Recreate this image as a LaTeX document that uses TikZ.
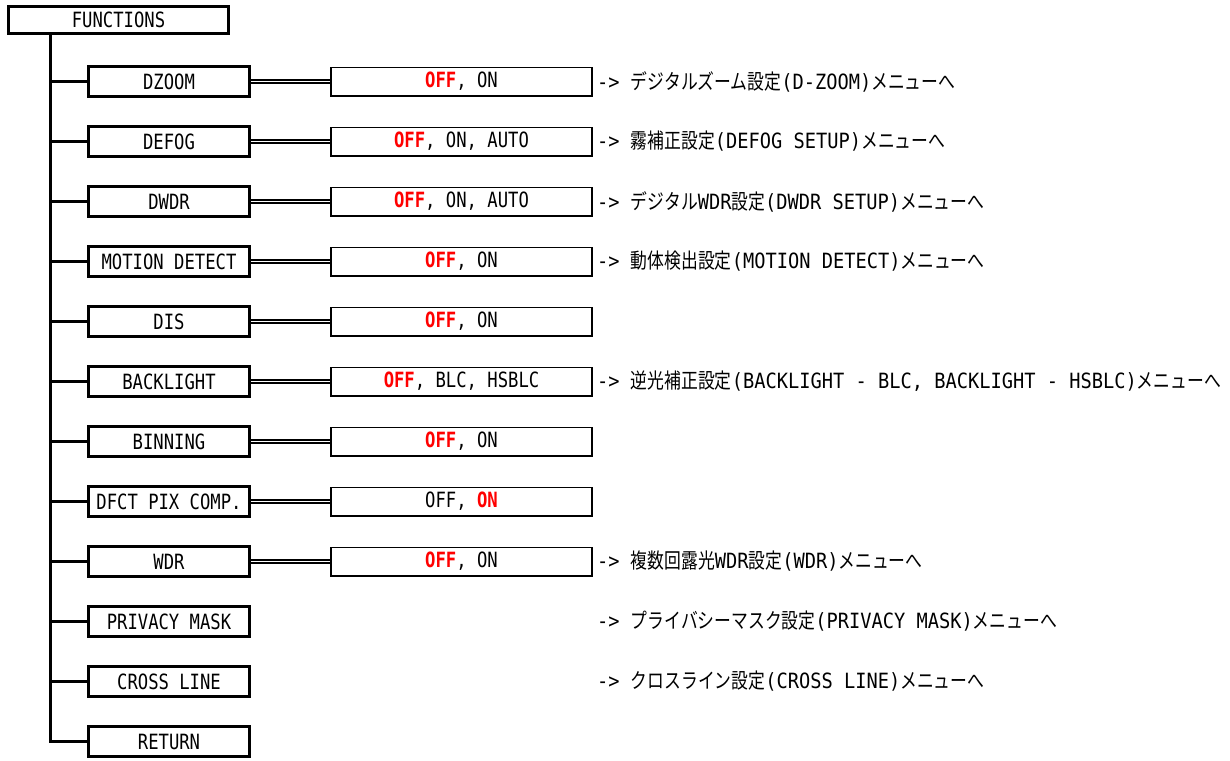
\documentclass[tikz,border=0pt]{standalone}
\usepackage{fontspec}
\setmainfont[FakeStretch=0.89]{DejaVu Sans Mono}
\newfontfamily\boxfont[FakeStretch=0.82]{DejaVu Sans Mono}
\newfontfamily\jpfont[FakeStretch=0.8]{Noto Sans CJK JP}
\newcommand\jp[1]{{\jpfont #1}}
\newcommand\hot[1]{\textcolor{red}{\textbf{#1}}}

\begin{document}
\begin{tikzpicture}[x=1pt, y=-1pt,
    menu/.style={draw, line width=3pt, minimum width=161pt, minimum height=30pt, inner sep=0pt, font=\boxfont\fontsize{21}{21}\selectfont},
    valbox/.style={draw, line width=1.5pt, minimum width=261pt, minimum height=28.5pt, inner sep=0pt, font=\boxfont\fontsize{21}{21}\selectfont},
    note/.style={anchor=west, inner sep=0pt, font=\fontsize{21}{21}\selectfont},
    tree/.style={line width=3pt},
    dbl/.style={double, line width=1.3pt, double distance=1.8pt}]

    \useasboundingbox (0,0) rectangle (1230,760);

    % 顶部 FUNCTIONS
    \node[menu, minimum width=220pt, minimum height=27pt] (fn) at (118.5,20) {FUNCTIONS};
    \coordinate (trunk) at (50,0);

    % 各菜单项
    \foreach \i/\t in {1/DZOOM, 2/DEFOG, 3/DWDR, 4/MOTION DETECT, 5/DIS, 6/BACKLIGHT,
                       7/BINNING, 8/DFCT PIX COMP., 9/WDR, 10/PRIVACY MASK, 11/CROSS LINE, 12/RETURN} {
        \node[menu] (m\i) at (169, 21.5+60*\i) {\t};
    }

    % 主干 + 分支
    \draw[tree] (trunk |- fn.south) |- (m12.west);
    \foreach \i in {1,...,11} {
        \draw[tree] (trunk |- m\i.west) -- (m\i.west);
    }

    % 设定值框 (双线连接)
    \foreach \i/\t in {1/{\hot{OFF}, ON}, 2/{\hot{OFF}, ON, AUTO}, 3/{\hot{OFF}, ON, AUTO},
                       4/{\hot{OFF}, ON}, 5/{\hot{OFF}, ON}, 6/{\hot{OFF}, BLC, HSBLC},
                       7/{\hot{OFF}, ON}, 8/{OFF, \hot{ON}}, 9/{\hot{OFF}, ON}} {
        \node[valbox] (v\i) at (461.5, 21.5+60*\i) {\t};
        \draw[dbl] (m\i.east) -- (v\i.west);
    }

    % 子菜单说明
    \foreach \i/\t in {1/{\jp{デジタルズーム設定}(D-ZOOM)\jp{メニューへ}},
                       2/{\jp{霧補正設定}(DEFOG SETUP)\jp{メニューへ}},
                       3/{\jp{デジタル}WDR\jp{設定}(DWDR SETUP)\jp{メニューへ}},
                       4/{\jp{動体検出設定}(MOTION DETECT)\jp{メニューへ}},
                       6/{\jp{逆光補正設定}(BACKLIGHT - BLC, BACKLIGHT - HSBLC)\jp{メニューへ}},
                       9/{\jp{複数回露光}WDR\jp{設定}(WDR)\jp{メニューへ}},
                       10/{\jp{プライバシーマスク設定}(PRIVACY MASK)\jp{メニューへ}},
                       11/{\jp{クロスライン設定}(CROSS LINE)\jp{メニューへ}}} {
        \node[note] (n\i) at (597, 21.5+60*\i) {-> \t};
    }

\end{tikzpicture}
\end{document}
